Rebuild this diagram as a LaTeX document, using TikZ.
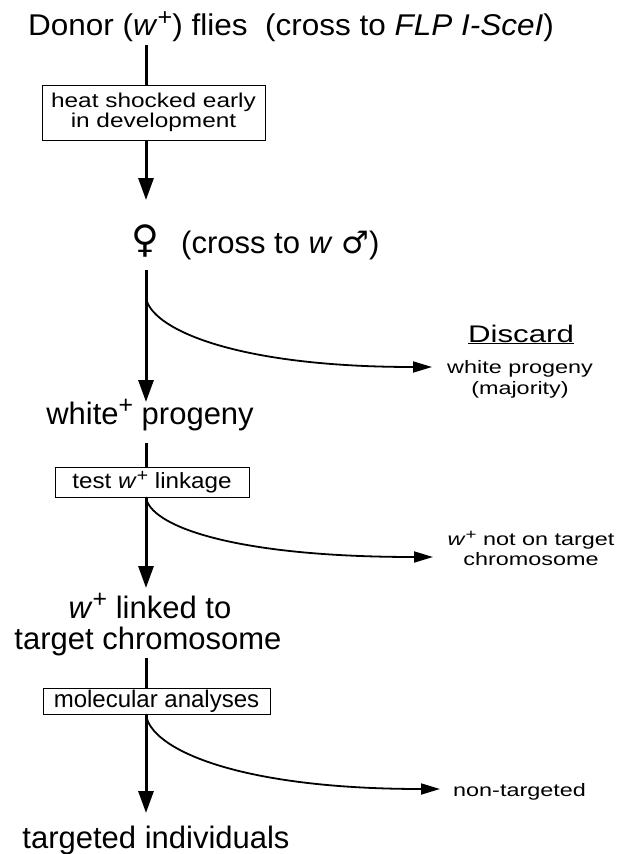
\documentclass[tikz,border=0pt]{standalone}
\usepackage{fontspec}
\usepackage{graphicx}
\setmainfont{Liberation Sans}
\newfontfamily\symfont{DejaVu Sans}
\newfontfamily\ftitle[FakeStretch=1.05]{Liberation Sans}
\newfontfamily\fboxA[FakeStretch=1.22]{Liberation Sans}
\newfontfamily\fboxB[FakeStretch=1.1]{Liberation Sans}
\newfontfamily\fside[FakeStretch=1.3]{Liberation Sans}
\newcommand\supplus{\raisebox{0.62ex}{\scalebox{0.8}{+}}}
\newcommand\wplus{\textit{w}\supplus}
\usetikzlibrary{arrows.meta}
\begin{document}
\begin{tikzpicture}[x=1pt,y=-1pt,
  ttl/.style={font=\ftitle\fontsize{30}{32}\selectfont, inner sep=0pt},
  big/.style={font=\fontsize{31}{31}\selectfont, inner sep=0pt},
  stepbox/.style={draw, line width=0.9pt, inner sep=0pt, align=center},
  side/.style={font=\fside\fontsize{18}{20}\selectfont, inner sep=0pt},
  mainln/.style={line width=3pt},
  mainarr/.style={line width=3pt, -{Triangle[width=15pt,length=22pt]}},
  sidearr/.style={line width=1.8pt, -{Triangle[width=11pt,length=19pt]}},
]
\useasboundingbox (0,0) rectangle (631,854);
% main column
\node[ttl, anchor=base west] (title) at (28,35) {Donor (\wplus) flies\ \ (cross to \textit{FLP I-SceI})};
\node[stepbox, font=\fboxA\fontsize{20}{20}\selectfont, minimum width=223pt, minimum height=55pt] (b1) at (153.5,112.5) {heat shocked early\\in development};
\node[font=\symfont\fontsize{38}{38}\selectfont, inner sep=0pt, anchor=base] (fem) at (145,252) {♀};
\node[big, anchor=base west] (femx) at (181,253) {(cross to \textit{w} {\symfont ♂})};
\node[big, anchor=base] (wp) at (150,424) {white\supplus{} progeny};
\node[stepbox, font=\fboxB\fontsize{22}{22}\selectfont, minimum width=194pt, minimum height=30pt] (b2) at (152,482) {test \wplus{} linkage};
\node[big, anchor=base] (lk1) at (150,618) {\wplus{} linked to};
\node[big, anchor=base] (lk2) at (148,649) {target chromosome};
\node[stepbox, font=\fontsize{24}{24}\selectfont, minimum width=227pt, minimum height=26pt] (b3) at (156.5,701) {molecular analyses};
\node[big, anchor=base] (tg) at (156,848) {targeted individuals};
% side outcomes
\node[font=\fside\fontsize{24}{26}\selectfont, inner sep=0pt, anchor=base] (dc) at (521,342) {\underline{Discard}};
\node[side, anchor=base] (dc1) at (520,373) {white progeny};
\node[side, anchor=base] (dc2) at (520,394) {(majority)};
\node[side, anchor=base] (nl1) at (531,545) {\wplus{} not on target};
\node[side, anchor=base] (nl2) at (531,565) {chromosome};
\node[side, anchor=base west] (nt) at (453,796) {non-targeted};
% axis coordinates
\coordinate (a0) at (146,45);
\coordinate (a1) at (146,200);
\coordinate (a2) at (146,270);
\coordinate (a3) at (146,402);
\coordinate (a4) at (146,443);
\coordinate (a5) at (146,588);
\coordinate (a6) at (146,658);
\coordinate (a7) at (146,813);
\coordinate (s1) at (146,297);
\coordinate (e1) at (432,367);
\coordinate (s2) at (146,497);
\coordinate (e2) at (433,557);
\coordinate (s3) at (146,714);
\coordinate (e3) at (440,789);
% connectors
\draw[mainln] (a0) -- (a0 |- b1.north);
\draw[mainarr] (a0 |- b1.south) -- (a1);
\draw[mainarr] (a2) -- (a3);
\draw[mainln] (a4) -- (a4 |- b2.north);
\draw[mainarr] (a4 |- b2.south) -- (a5);
\draw[mainln] (a6) -- (a6 |- b3.north);
\draw[mainarr] (a6 |- b3.south) -- (a7);
\draw[sidearr] (s1) .. controls (149,327) and (230,367) .. (e1);
\draw[sidearr] (s2) .. controls (149,525) and (230,557) .. (e2);
\draw[sidearr] (s3) .. controls (149,748) and (235,789) .. (e3);
\end{tikzpicture}
\end{document}
